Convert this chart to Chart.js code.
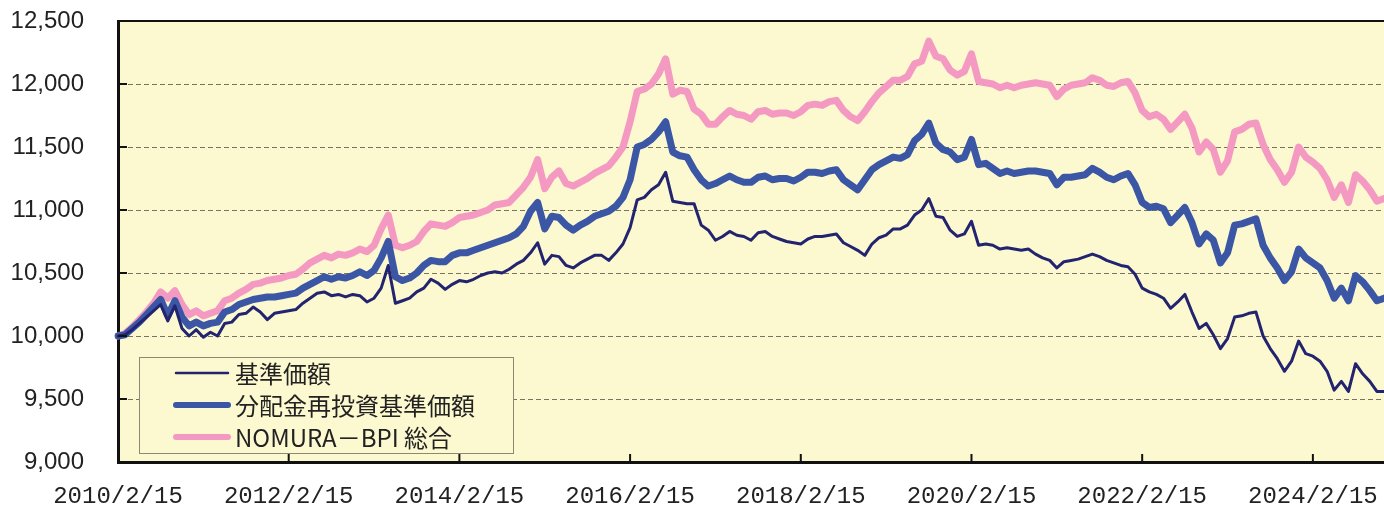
<!DOCTYPE html>
<html>
<head>
<meta charset="utf-8">
<script src="https://cdn.jsdelivr.net/npm/chart.js@4.4.1/dist/chart.umd.min.js"></script>
<style>
  html, body { margin: 0; padding: 0; background: #fff; }
  #wrap { width: 1384px; height: 506px; position: relative; }
</style>
</head>
<body>
<div id="wrap"><canvas id="myChart"></canvas></div>
<script>
var seriesNames = ['基準価額', '分配金再投資基準価額', 'NOMURA－BPI 総合'];
var seriesColors = ['#23246f', '#3a56a5', '#f49ac2'];
var seriesWidths = [3, 7, 7];

var tickLabels = ['2010/2/15', '2012/2/15', '2014/2/15', '2016/2/15', '2018/2/15', '2020/2/15', '2022/2/15', '2024/2/15'];

// monthly readings, 2010/2 .. 2024/12
var navValues = [
  10000,10010,10050,10100,10150,10200,10250,10120,10240,10060,10000,10050,9990,10030,10000,10100,10110,10170,10180,10230,10190,10130,10180,10190,10200,10210,10260,10300,10340,10350,
  10320,10330,10310,10330,10320,10270,10300,10380,10560,10260,10280,10300,10350,10380,10450,10420,10370,10410,10440,10430,10450,10480,10500,10510,10500,10530,10570,10600,10660,10740,
  10570,10640,10630,10560,10540,10580,10610,10640,10640,10600,10660,10730,10860,11080,11100,11160,11200,11300,11070,11060,11050,11050,10880,10840,10760,10790,10830,10800,10790,
  10760,10820,10830,10790,10770,10750,10740,10730,10770,10790,10790,10800,10810,10740,10710,10680,10640,10730,10780,10800,10850,10850,10880,10960,11000,11090,10950,10940,10840,10790,
  10810,10910,10720,10730,10720,10690,10700,10690,10680,10690,10650,10620,10600,10540,10590,10600,10610,10630,10650,10630,10600,10580,10560,10550,10490,10380,10350,10330,10300,10220,
  10270,10330,10190,10060,10100,10010,9900,9980,10150,10160,10180,10190,10000,9900,9820,9720,9800,9960,9860,9840,9800,9720,9570,9640,9560,9780,9700,9640,9560,9560
];
var reinvestValues = [
  10000,10010,10060,10110,10170,10230,10290,10160,10280,10150,10080,10110,10080,10100,10110,10190,10210,10250,10270,10290,10300,10310,10310,10320,10330,10340,10380,10410,10440,10470,
  10450,10470,10460,10480,10510,10480,10520,10620,10750,10470,10440,10460,10500,10560,10600,10590,10590,10640,10660,10660,10680,10700,10720,10740,10760,10780,10810,10870,10990,11060,
  10850,10950,10940,10880,10840,10880,10910,10950,10970,10990,11030,11100,11240,11500,11520,11560,11620,11700,11460,11430,11420,11320,11240,11190,11210,11240,11270,11240,11220,
  11220,11260,11270,11240,11250,11250,11230,11260,11300,11300,11290,11310,11320,11240,11200,11160,11240,11320,11360,11390,11420,11410,11440,11550,11600,11690,11530,11480,11460,11400,
  11420,11560,11360,11370,11330,11290,11310,11290,11300,11310,11310,11300,11290,11200,11260,11260,11270,11280,11330,11300,11260,11240,11270,11290,11200,11060,11020,11030,11010,10900,
  10960,11020,10900,10730,10810,10760,10580,10660,10880,10890,10910,10930,10720,10620,10540,10440,10510,10690,10620,10580,10540,10440,10300,10380,10280,10480,10430,10360,10280,10300
];
var bpiValues = [
  10000,10020,10070,10130,10190,10260,10350,10300,10360,10250,10170,10200,10160,10180,10200,10280,10300,10340,10370,10410,10420,10440,10450,10460,10480,10490,10530,10580,10610,10640,
  10620,10650,10640,10660,10690,10670,10720,10850,10960,10720,10700,10720,10750,10830,10890,10880,10870,10900,10940,10950,10960,10980,11000,11040,11050,11060,11120,11180,11260,11400,
  11170,11260,11310,11210,11190,11220,11250,11290,11320,11350,11420,11500,11700,11940,11960,12000,12080,12200,11920,11950,11940,11800,11760,11680,11680,11740,11790,11760,11750,
  11720,11780,11790,11760,11770,11770,11750,11780,11830,11840,11830,11860,11870,11790,11740,11710,11780,11860,11930,11980,12030,12030,12060,12160,12180,12340,12220,12200,12110,12070,
  12100,12240,12020,12010,12000,11970,11990,11970,11990,12000,12010,12000,11990,11900,11960,11990,12000,12010,12050,12030,11990,11980,12010,12020,11930,11790,11740,11760,11720,11640,
  11700,11760,11650,11460,11540,11480,11300,11390,11620,11640,11680,11690,11520,11400,11320,11220,11300,11500,11420,11380,11330,11240,11100,11200,11060,11280,11230,11160,11070,11090
];

var months = [];
for (var i = 0; i < navValues.length; i++) {
  var yr = 2010 + Math.floor((i + 1) / 12);
  var mo = (i + 1) % 12 + 1;
  months.push(yr + '/' + mo + '/15');
}

var plotBg = '#fcf8d0';

var framePlugin = {
  id: 'frame',
  beforeDraw: function (chart) {
    var a = chart.chartArea, ctx = chart.ctx;
    ctx.save();
    ctx.fillStyle = plotBg;
    ctx.fillRect(a.left, a.top, a.right - a.left, a.bottom - a.top);
    ctx.restore();
  },
  afterDatasetsDraw: function (chart) {
    var ctx = chart.ctx;
    ctx.save();
    ctx.fillStyle = plotBg;
    ctx.fillRect(139, 357, 374, 96);
    ctx.strokeStyle = '#8c8872';
    ctx.lineWidth = 1;
    ctx.strokeRect(139.5, 357.5, 374, 96);
    chart.data.datasets.forEach(function (ds, k) {
      var y = 373 + k * 32;
      ctx.strokeStyle = ds.borderColor;
      ctx.lineWidth = k === 0 ? 2.5 : 6;
      ctx.lineCap = 'round';
      ctx.beginPath();
      ctx.moveTo(176, y);
      ctx.lineTo(228, y);
      ctx.stroke();
      ctx.fillStyle = '#222';
      ctx.font = '24px "Noto Sans CJK JP"';
      ctx.textBaseline = 'middle';
      ctx.fillText(ds.label, 235, y + 1);
    });
    ctx.restore();
  },
  afterDraw: function (chart) {
    var a = chart.chartArea, ctx = chart.ctx;
    var ys = chart.scales.y, xs = chart.scales.x;
    ctx.save();
    ctx.strokeStyle = '#111';
    ctx.lineWidth = 2;
    ctx.beginPath();
    ctx.moveTo(a.left, a.top);
    ctx.lineTo(a.right, a.top);
    ys.ticks.forEach(function (t) {
      var py = ys.getPixelForValue(t.value);
      ctx.moveTo(a.left, py);
      ctx.lineTo(a.left + 9, py);
    });
    xs.ticks.forEach(function (t, i) {
      var px = xs.getPixelForTick(i);
      ctx.moveTo(px, a.bottom);
      ctx.lineTo(px, a.bottom - 8);
    });
    ctx.stroke();
    ctx.restore();
  }
};

function createChart() {
  var ctx = document.getElementById('myChart').getContext('2d');
  var values = [navValues, reinvestValues, bpiValues];
  var datasets = values.map(function (v, k) {
    return {
      label: seriesNames[k],
      data: v,
      borderColor: seriesColors[k],
      backgroundColor: seriesColors[k],
      borderWidth: seriesWidths[k],
      pointRadius: 0,
      tension: 0,
      borderJoinStyle: 'round',
      borderCapStyle: 'round'
    };
  });
  new Chart(ctx, {
    type: 'line',
    data: { labels: months, datasets: datasets },
    options: {
      responsive: true,
      maintainAspectRatio: false,
      animation: false,
      layout: { padding: { top: 21, right: 0, bottom: 0, left: 0 } },
      plugins: { legend: { display: false }, tooltip: { enabled: false } },
      scales: {
        x: {
          type: 'category',
          offset: false,
          grid: { display: false, drawTicks: false },
          border: { display: true, color: '#111', width: 3 },
          afterBuildTicks: function (scale) {
            scale.ticks = tickLabels.map(function (l) { return { value: months.indexOf(l) }; });
          },
          afterFit: function (scale) {
            scale.height = 44;
            scale.paddingLeft = 0;
            scale.paddingRight = 0;
          },
          ticks: {
            autoSkip: false,
            maxRotation: 0,
            padding: 20,
            color: '#222',
            font: { family: '"Liberation Mono"', size: 24 }
          }
        },
        y: {
          min: 9000,
          max: 12500,
          grid: { color: '#7a7360', lineWidth: 1, drawTicks: false },
          border: { display: true, color: '#111', width: 3, dash: [5, 3] },
          afterFit: function (scale) {
            scale.width = 118;
            scale.paddingTop = 10;
            scale.paddingBottom = 10;
          },
          ticks: {
            stepSize: 500,
            padding: 34,
            color: '#222',
            font: { family: '"Liberation Sans"', size: 24 },
            callback: function (v) { return v.toLocaleString('en-US'); }
          }
        }
      }
    },
    plugins: [framePlugin]
  });
}
createChart();
</script>
</body>
</html>
